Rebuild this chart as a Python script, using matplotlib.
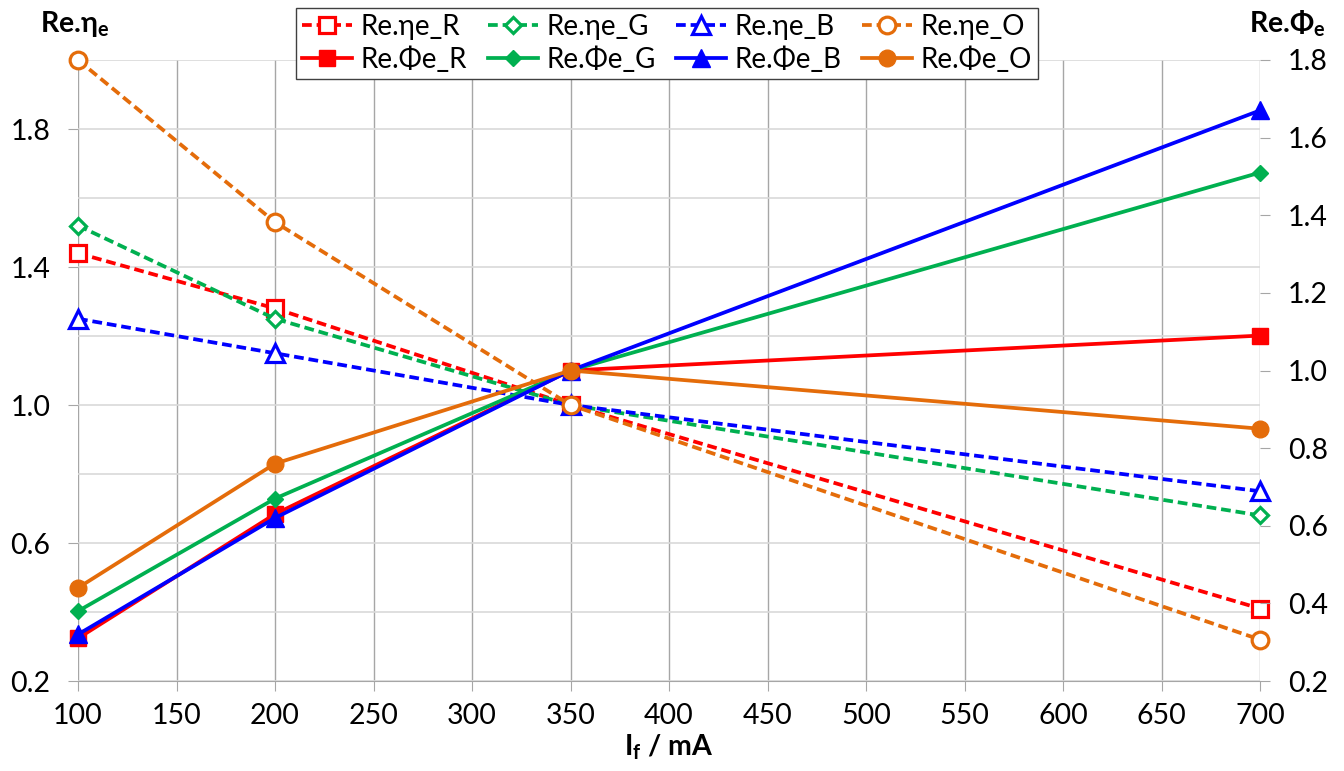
import numpy as np
import matplotlib.pyplot as plt
from matplotlib.ticker import MultipleLocator, FixedLocator

plt.rcParams['font.family'] = ['Lato', 'DejaVu Sans']
plt.rcParams['mathtext.fontset'] = 'custom'
plt.rcParams['mathtext.rm'] = 'Lato'
plt.rcParams['mathtext.bf'] = 'Lato:bold'

# forward current (mA)
current = [100, 200, 350, 700]

# relative efficiency (left axis)
eta_R = [1.44, 1.28, 1.00, 0.41]
eta_G = [1.52, 1.25, 1.00, 0.68]
eta_B = [1.25, 1.15, 1.00, 0.75]
eta_O = [2.00, 1.53, 1.00, 0.32]

# relative radiant flux (right axis)
phi_R = [0.31, 0.63, 1.00, 1.09]
phi_G = [0.38, 0.67, 1.00, 1.51]
phi_B = [0.32, 0.62, 1.00, 1.67]
phi_O = [0.44, 0.76, 1.00, 0.85]

red = '#FF0000'
green = '#00B050'
blue = '#0000FF'
orange = '#E46C0A'

fig = plt.figure(figsize=(13.44, 7.71), dpi=100)
ax = fig.add_axes([78/1344, 1 - 681/771, (1260 - 78)/1344, (681 - 60)/771])
ax2 = ax.twinx()

lw = 2.7
dash = (2.6, 1.3)

l_eR, = ax.plot(current, eta_R, ls='--', dashes=dash, color=red, lw=lw, marker='s', ms=12,
                mfc='white', mec=red, mew=2.3, label='Re.ηe_R', clip_on=False)
l_eG, = ax.plot(current, eta_G, ls='--', dashes=dash, color=green, lw=lw, marker='D', ms=8,
                mfc='white', mec=green, mew=2.3, label='Re.ηe_G', clip_on=False)
l_eB, = ax.plot(current, eta_B, ls='--', dashes=dash, color=blue, lw=lw, marker='^', ms=13,
                mfc='white', mec=blue, mew=2.3, label='Re.ηe_B', clip_on=False)
l_eO, = ax.plot(current, eta_O, ls='--', dashes=dash, color=orange, lw=lw, marker='o', ms=12,
                mfc='white', mec=orange, mew=2.3, label='Re.ηe_O', clip_on=False)

l_pR, = ax2.plot(current, phi_R, color=red, lw=lw, marker='s', ms=12, label='Re.Φe_R', clip_on=False)
l_pG, = ax2.plot(current, phi_G, color=green, lw=lw, marker='D', ms=8, label='Re.Φe_G', clip_on=False)
l_pB, = ax2.plot(current, phi_B, color=blue, lw=lw, marker='^', ms=13, label='Re.Φe_B', clip_on=False)
l_pO, = ax2.plot(current, phi_O, color=orange, lw=lw, marker='o', ms=12, label='Re.Φe_O', clip_on=False)

# axes ranges and ticks
ax.set_xlim(100, 700)
ax.set_ylim(0.2, 2.0)
ax2.set_ylim(0.2, 1.8)
ax.set_xticks(np.arange(100, 701, 50))
ax.set_yticks([0.2, 0.6, 1.0, 1.4, 1.8])
ax.yaxis.set_minor_locator(FixedLocator([0.4, 0.8, 1.2, 1.6, 2.0]))
ax2.yaxis.set_major_locator(MultipleLocator(0.2))
ax.yaxis.set_major_formatter(plt.FormatStrFormatter('%.1f'))
ax2.yaxis.set_major_formatter(plt.FormatStrFormatter('%.1f'))

ax.yaxis.grid(True, which='both', color='#d9d9d9', lw=1.2)
ax.xaxis.grid(True, color='#a6a6a6', lw=1.0)
ax.set_axisbelow(True)

for a in (ax, ax2):
    for s in a.spines.values():
        s.set_visible(False)
ax.spines['bottom'].set_visible(True)
ax.spines['bottom'].set_color('#a6a6a6')

ax.tick_params(axis='x', direction='out', length=7, color='#a6a6a6', labelsize=20.5, pad=9)
ax.tick_params(axis='y', which='major', direction='out', length=7, color='#a6a6a6', labelsize=20.5, pad=13)
ax.tick_params(axis='y', which='minor', length=0)
ax2.tick_params(axis='y', direction='out', length=7, color='#a6a6a6', labelsize=20.5, pad=13)

ax.set_xlabel(r'I$_\mathbf{f}$ / mA', fontsize=20.5, fontweight='bold', labelpad=2)
fig.text(40/1344, 1 - 32/771, r'Re.η$_\mathbf{e}$', fontsize=20.5, fontweight='bold',
         ha='left', va='baseline')
fig.text(1326/1344, 1 - 32/771, r'Re.Φ$_\mathbf{e}$', fontsize=20.5, fontweight='bold',
         ha='right', va='baseline')

handles = [l_eR, l_pR, l_eG, l_pG, l_eB, l_pB, l_eO, l_pO]
leg = ax2.legend(handles=handles, loc='upper center', bbox_to_anchor=(667/1344, 1 - 8/771),
                 bbox_transform=fig.transFigure, ncol=4, fontsize=20, frameon=True,
                 fancybox=False, edgecolor='#404040', framealpha=1, borderpad=0.2,
                 labelspacing=0.25, handlelength=1.8, handletextpad=0.3, columnspacing=0.75,
                 borderaxespad=0)
leg.get_frame().set_linewidth(1.0)

fig.savefig('out.png', dpi=100)
